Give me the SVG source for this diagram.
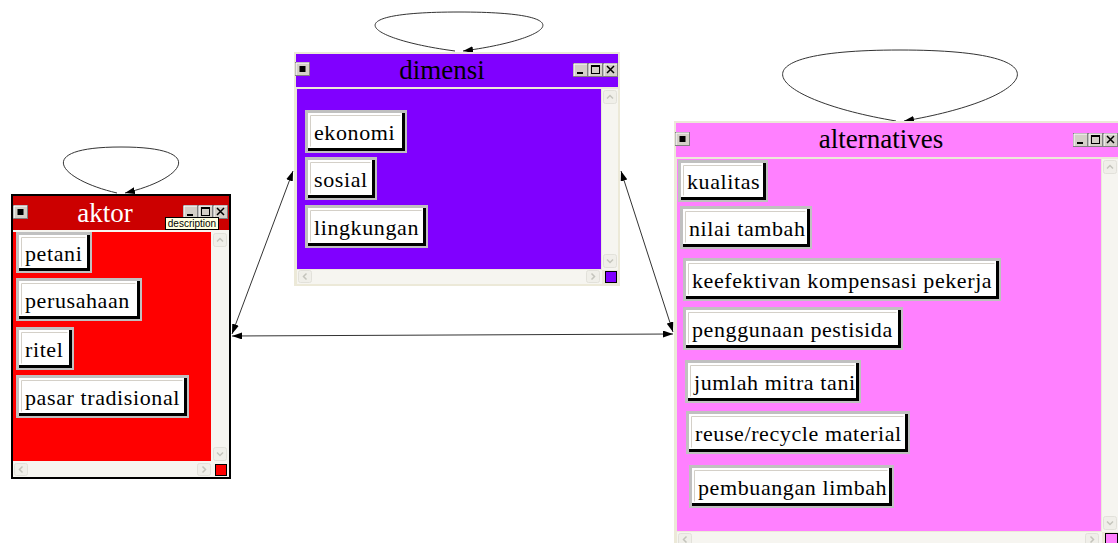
<svg xmlns="http://www.w3.org/2000/svg" xmlns:xlink="http://www.w3.org/1999/xlink" width="1118" height="543" viewBox="0 0 1118 543">
<style>
.bo{fill:#c0c0c0}
.bs{fill:#000}
.bf{fill:#fff}
.bh{fill:none;stroke:#d4d0c8;stroke-width:1}
.lbl{font-family:"Liberation Serif","Times New Roman",serif;font-size:22px;letter-spacing:0.6px;fill:#000}
.ttl{font-family:"Liberation Serif","Times New Roman",serif;font-size:27px;text-anchor:middle}
.track{fill:#f6f5f0}
.sb{fill:#f0efe9;stroke:#e2e1da;stroke-width:1}
.chev{fill:none;stroke:#c4c4bc;stroke-width:1.5}
.conn{fill:none;stroke:#333;stroke-width:1}
.frame{fill:#ece9d8}
</style>
<defs>
<marker id="ah" viewBox="0 0 10 7" refX="10" refY="3.5" markerWidth="10" markerHeight="7" markerUnits="userSpaceOnUse" orient="auto-start-reverse">
<path d="M0,0 L10,3.5 L0,7 z" fill="#000"/>
</marker>
<symbol id="tb" viewBox="0 0 15 14" width="15" height="14" overflow="visible">
<rect x="0.5" y="0.5" width="14" height="13" fill="#d4d0c8" stroke="#808080"/>
<path d="M1,13 V1 H14" fill="none" stroke="#fff"/>
</symbol>
<symbol id="bIcon" width="15" height="14" overflow="visible">
<use xlink:href="#tb"/>
<rect x="4.5" y="4" width="6" height="6" fill="#000"/>
</symbol>
<symbol id="bMin" width="15" height="14" overflow="visible">
<use xlink:href="#tb"/>
<rect x="4" y="9" width="6" height="2" fill="#000"/>
</symbol>
<symbol id="bMax" width="15" height="14" overflow="visible">
<use xlink:href="#tb"/>
<rect x="3.5" y="2.5" width="8" height="8" fill="none" stroke="#000"/>
<rect x="3.5" y="2.5" width="8" height="1.5" fill="#000"/>
</symbol>
<symbol id="bCls" width="15" height="14" overflow="visible">
<use xlink:href="#tb"/>
<path d="M4,3 L11,10 M11,3 L4,10" stroke="#000" stroke-width="1.5"/>
</symbol>
<symbol id="sUp" width="14" height="14" overflow="visible">
<rect x="0.5" y="0.5" width="13" height="13" rx="2" class="sb"/>
<path d="M4,8.5 L7,5.5 L10,8.5" class="chev"/>
</symbol>
<symbol id="sDn" width="14" height="14" overflow="visible">
<rect x="0.5" y="0.5" width="13" height="13" rx="2" class="sb"/>
<path d="M4,5.5 L7,8.5 L10,5.5" class="chev"/>
</symbol>
<symbol id="sLt" width="14" height="13" overflow="visible">
<rect x="0.5" y="0.5" width="13" height="12" rx="2" class="sb"/>
<path d="M8.5,3.5 L5.5,6.5 L8.5,9.5" class="chev"/>
</symbol>
<symbol id="sRt" width="14" height="13" overflow="visible">
<rect x="0.5" y="0.5" width="13" height="12" rx="2" class="sb"/>
<path d="M5.5,3.5 L8.5,6.5 L5.5,9.5" class="chev"/>
</symbol>
</defs>
<rect width="1118" height="543" fill="#fff"/>

<g id="connectors">
<path class="conn" d="M117,193 C58.5,179.4 32,147 121,147 C210,147 183.5,179.4 125,193" marker-end="url(#ah)"/>
<path class="conn" d="M455,51 C368,39.5 329,12 459,12 C589,12 550,39.5 463,51" marker-end="url(#ah)"/>
<path class="conn" d="M896,121 C770,100 720,50 900,50 C1080,50 1030,100 904,121" marker-end="url(#ah)"/>
<line class="conn" x1="232" y1="334" x2="293" y2="171" marker-start="url(#ah)" marker-end="url(#ah)"/>
<line class="conn" x1="232" y1="336" x2="673" y2="334" marker-start="url(#ah)" marker-end="url(#ah)"/>
<line class="conn" x1="621" y1="171" x2="673" y2="332" marker-start="url(#ah)" marker-end="url(#ah)"/>
</g>

<g id="node-aktor">
<rect x="12" y="195" width="218" height="283" fill="#f6f5f0" stroke="#000" stroke-width="2"/>
<rect x="13" y="196" width="216" height="34" fill="#cc0000"/>
<rect x="13" y="232" width="198" height="229" fill="#ff0000"/>
<rect x="212" y="232" width="16" height="230" class="track"/>
<use xlink:href="#sUp" x="213" y="233"/>
<use xlink:href="#sDn" x="213" y="447"/>
<rect x="13" y="462" width="199" height="15" class="track"/>
<use xlink:href="#sLt" x="14" y="463"/>
<use xlink:href="#sRt" x="197" y="463"/>
<rect x="215.5" y="464.5" width="11" height="11" fill="#ff0000" stroke="#000"/>
<text class="ttl" x="105" y="222" fill="#fff">aktor</text>
<use xlink:href="#bIcon" x="13" y="205"/>
<use xlink:href="#bMin" x="183" y="205"/>
<use xlink:href="#bMax" x="198" y="205"/>
<use xlink:href="#bCls" x="213" y="205"/>
<rect x="165.5" y="217.5" width="53" height="12" fill="#ffffe1" stroke="#000"/>
<text x="192" y="227" font-family="Liberation Sans, Arial, sans-serif" font-size="10" text-anchor="middle" fill="#000">description</text>
<g transform="translate(16,232)">
<rect width="76" height="41" class="bo"/><rect x="3" y="3" width="71" height="36" class="bs"/><rect x="3" y="3" width="68" height="33" class="bf"/><path d="M5.5,34.5 V5.5 H69.5" class="bh"/>
<text class="lbl" x="9" y="29">petani</text>
</g>
<g transform="translate(16,278)">
<rect width="126" height="43" class="bo"/><rect x="3" y="3" width="121" height="38" class="bs"/><rect x="3" y="3" width="118" height="35" class="bf"/><path d="M5.5,36.5 V5.5 H119.5" class="bh"/>
<text class="lbl" x="9" y="30">perusahaan</text>
</g>
<g transform="translate(16,327)">
<rect width="58" height="43" class="bo"/><rect x="3" y="3" width="53" height="38" class="bs"/><rect x="3" y="3" width="50" height="35" class="bf"/><path d="M5.5,36.5 V5.5 H51.5" class="bh"/>
<text class="lbl" x="9" y="30">ritel</text>
</g>
<g transform="translate(16,375)">
<rect width="173" height="43" class="bo"/><rect x="3" y="3" width="168" height="38" class="bs"/><rect x="3" y="3" width="165" height="35" class="bf"/><path d="M5.5,36.5 V5.5 H166.5" class="bh"/>
<text class="lbl" x="9" y="30">pasar tradisional</text>
</g>
</g>

<g id="node-dimensi">
<rect x="294" y="52" width="326" height="234" class="frame"/>
<rect x="296" y="54" width="322" height="33" fill="#8000ff"/>
<rect x="297" y="89" width="304" height="180" fill="#8000ff"/>
<rect x="602" y="89" width="16" height="181" class="track"/>
<use xlink:href="#sUp" x="603" y="90"/>
<use xlink:href="#sDn" x="603" y="254"/>
<rect x="297" y="270" width="305" height="14" class="track"/>
<use xlink:href="#sLt" x="298" y="270"/>
<use xlink:href="#sRt" x="586" y="270"/>
<rect x="605.5" y="271.5" width="11" height="11" fill="#8000ff" stroke="#000"/>
<text class="ttl" x="442" y="79" fill="#000">dimensi</text>
<use xlink:href="#bIcon" x="295" y="62"/>
<use xlink:href="#bMin" x="573" y="63"/>
<use xlink:href="#bMax" x="588" y="63"/>
<use xlink:href="#bCls" x="603" y="63"/>
<g transform="translate(305,110)">
<rect width="102" height="43" class="bo"/><rect x="3" y="3" width="97" height="38" class="bs"/><rect x="3" y="3" width="94" height="35" class="bf"/><path d="M5.5,36.5 V5.5 H95.5" class="bh"/>
<text class="lbl" x="9" y="30">ekonomi</text>
</g>
<g transform="translate(305,157)">
<rect width="72" height="43" class="bo"/><rect x="3" y="3" width="67" height="38" class="bs"/><rect x="3" y="3" width="64" height="35" class="bf"/><path d="M5.5,36.5 V5.5 H65.5" class="bh"/>
<text class="lbl" x="9" y="30">sosial</text>
</g>
<g transform="translate(305,205)">
<rect width="123" height="43" class="bo"/><rect x="3" y="3" width="118" height="38" class="bs"/><rect x="3" y="3" width="115" height="35" class="bf"/><path d="M5.5,36.5 V5.5 H116.5" class="bh"/>
<text class="lbl" x="9" y="30">lingkungan</text>
</g>
</g>

<g id="node-alternatives">
<rect x="674" y="121" width="446" height="424" class="frame"/>
<rect x="676" y="123" width="444" height="34" fill="#ff80ff"/>
<rect x="677" y="159" width="424" height="372" fill="#ff80ff"/>
<rect x="1102" y="159" width="16" height="373" class="track"/>
<use xlink:href="#sUp" x="1103" y="160"/>
<use xlink:href="#sDn" x="1103" y="516"/>
<rect x="677" y="532" width="425" height="11" class="track"/>
<use xlink:href="#sLt" x="678" y="533"/>
<use xlink:href="#sRt" x="1085" y="533"/>
<rect x="1105.5" y="533.5" width="12" height="12" fill="#ff80ff" stroke="#000"/>
<text class="ttl" x="881" y="148" fill="#000">alternatives</text>
<use xlink:href="#bIcon" x="675" y="132"/>
<use xlink:href="#bMin" x="1073" y="133"/>
<use xlink:href="#bMax" x="1088" y="133"/>
<use xlink:href="#bCls" x="1103" y="133"/>
<g transform="translate(678,160)">
<rect width="90" height="42" class="bo"/><rect x="3" y="3" width="85" height="37" class="bs"/><rect x="3" y="3" width="82" height="34" class="bf"/><path d="M5.5,35.5 V5.5 H83.5" class="bh"/>
<text class="lbl" x="9" y="29">kualitas</text>
</g>
<g transform="translate(680,206)">
<rect width="132" height="43" class="bo"/><rect x="3" y="3" width="127" height="38" class="bs"/><rect x="3" y="3" width="124" height="35" class="bf"/><path d="M5.5,36.5 V5.5 H125.5" class="bh"/>
<text class="lbl" x="9" y="30">nilai tambah</text>
</g>
<g transform="translate(683,258)">
<rect width="318" height="43" class="bo"/><rect x="3" y="3" width="313" height="38" class="bs"/><rect x="3" y="3" width="310" height="35" class="bf"/><path d="M5.5,36.5 V5.5 H311.5" class="bh"/>
<text class="lbl" x="9" y="30">keefektivan kompensasi pekerja</text>
</g>
<g transform="translate(683,307)">
<rect width="220" height="43" class="bo"/><rect x="3" y="3" width="215" height="38" class="bs"/><rect x="3" y="3" width="212" height="35" class="bf"/><path d="M5.5,36.5 V5.5 H213.5" class="bh"/>
<text class="lbl" x="9" y="30">penggunaan pestisida</text>
</g>
<g transform="translate(685,360)">
<rect width="176" height="43" class="bo"/><rect x="3" y="3" width="171" height="38" class="bs"/><rect x="3" y="3" width="168" height="35" class="bf"/><path d="M5.5,36.5 V5.5 H169.5" class="bh"/>
<text class="lbl" x="9" y="30">jumlah mitra tani</text>
</g>
<g transform="translate(686,411)">
<rect width="224" height="43" class="bo"/><rect x="3" y="3" width="219" height="38" class="bs"/><rect x="3" y="3" width="216" height="35" class="bf"/><path d="M5.5,36.5 V5.5 H217.5" class="bh"/>
<text class="lbl" x="9" y="30">reuse/recycle material</text>
</g>
<g transform="translate(689,465)">
<rect width="205" height="43" class="bo"/><rect x="3" y="3" width="200" height="38" class="bs"/><rect x="3" y="3" width="197" height="35" class="bf"/><path d="M5.5,36.5 V5.5 H198.5" class="bh"/>
<text class="lbl" x="9" y="30">pembuangan limbah</text>
</g>
</g>
</svg>
